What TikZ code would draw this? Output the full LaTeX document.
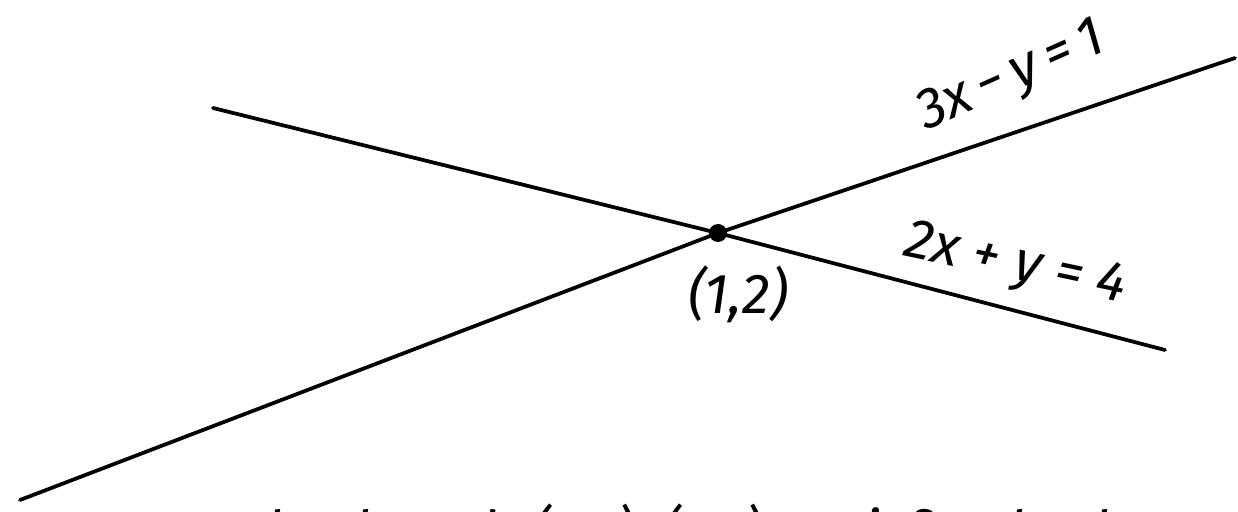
\documentclass[tikz,border=0pt]{standalone}
\usepackage{fontspec}
\setmainfont{Fira Sans}
\tikzset{
  % linjer
  ln/.style={draw=black,line width=0.75mm,line cap=round},
  pt/.style={circle,fill=black,inner sep=0pt,minimum size=3.6mm},
  % text
  eq/.style={font=\fontsize{32}{38}\selectfont\itshape,inner sep=0pt},
  note/.style={font=\fontsize{32}{38}\selectfont\itshape,inner sep=0pt,anchor=base west},
}
\begin{document}
\begin{tikzpicture}[x=0.2mm,y=-0.2mm]
\clip (0,0) rectangle (1238,512);
  \node[pt] (P) at (718,233) {};
  \coordinate (a1) at (20,500);
  \coordinate (a2) at (1235,58);
  \coordinate (b1) at (213,108);
  \coordinate (b2) at (1165,350);
  \draw[ln] (a1) -- (P.center) -- (a2);
  \draw[ln] (b1) -- (P.center) -- (b2);
  \node[eq,rotate=24] (la) at (1012,78) {3x\,−\,y\,=\,1};
  \node[eq,rotate=-12] (lb) at (1015,266) {2x + y = 4};
  \node[eq] (lp) at (738,294) {(1,2)};
  \node[note] (chk) at (240,552) {check and\hspace{7mm}(x,y)=(1,2)\hspace{2mm} satisfies both};
\end{tikzpicture}
\end{document}
